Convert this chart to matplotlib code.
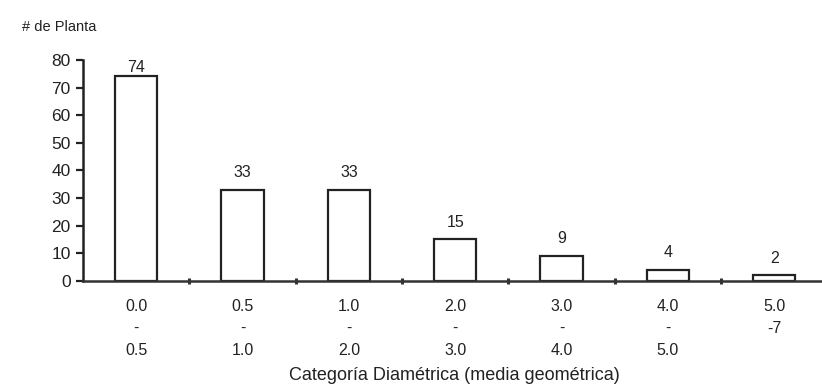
import matplotlib.pyplot as plt

plt.rcParams['font.family'] = ['Liberation Sans', 'DejaVu Sans']

# data
cats = ["0.0\n-\n0.5", "0.5\n-\n1.0", "1.0\n-\n2.0", "2.0\n-\n3.0",
        "3.0\n-\n4.0", "4.0\n-\n5.0", "5.0\n-7"]
plantas = [74, 33, 33, 15, 9, 4, 2]

fig = plt.figure(figsize=(8.22, 3.89), dpi=100)
ax = fig.add_axes([0.101, 0.278, 0.899, 0.568])

x = list(range(len(cats)))
ax.bar(x, plantas, width=0.4, color='white', edgecolor='#222222', linewidth=1.6)

# value labels on top of bars (the tallest one sits tight under the top)
for xi, v in zip(x, plantas):
    off = 1 if v > 70 else 7
    ax.annotate(str(v), (xi, v), xytext=(0, off), textcoords='offset points',
                ha='center', va='bottom', fontsize=11.5, color='#222222')

ax.set_ylim(0, 80)
ax.set_xlim(-0.5, 6.45)
ax.set_yticks(range(0, 81, 10))

# x tick labels as centered multi-line text
ax.set_xticks(x)
ax.set_xticklabels(cats, fontsize=11.5, linespacing=1.6, color='#222222')
ax.tick_params(axis='x', which='major', length=0, pad=13)
ax.set_xticks([i + 0.5 for i in range(6)], minor=True)
ax.tick_params(axis='x', which='minor', direction='inout', length=5, width=2.2, color='#333333')
ax.tick_params(axis='y', direction='out', length=5, width=1.6, labelsize=12.5,
               color='#222222', labelcolor='#222222', pad=4)

for s in ['top', 'right']:
    ax.spines[s].set_visible(False)
ax.spines['left'].set_linewidth(1.8)
ax.spines['bottom'].set_linewidth(1.8)
ax.spines['left'].set_color('#222222')
ax.spines['bottom'].set_color('#333333')

fig.text(0.027, 0.93, "# de Planta", fontsize=10.5, color='#222222', va='center')
fig.text(0.553, 0.012, "Categoría Diamétrica (media geométrica)", fontsize=13,
         ha='center', va='bottom', color='#222222')

fig.savefig('out.png', dpi=100)
